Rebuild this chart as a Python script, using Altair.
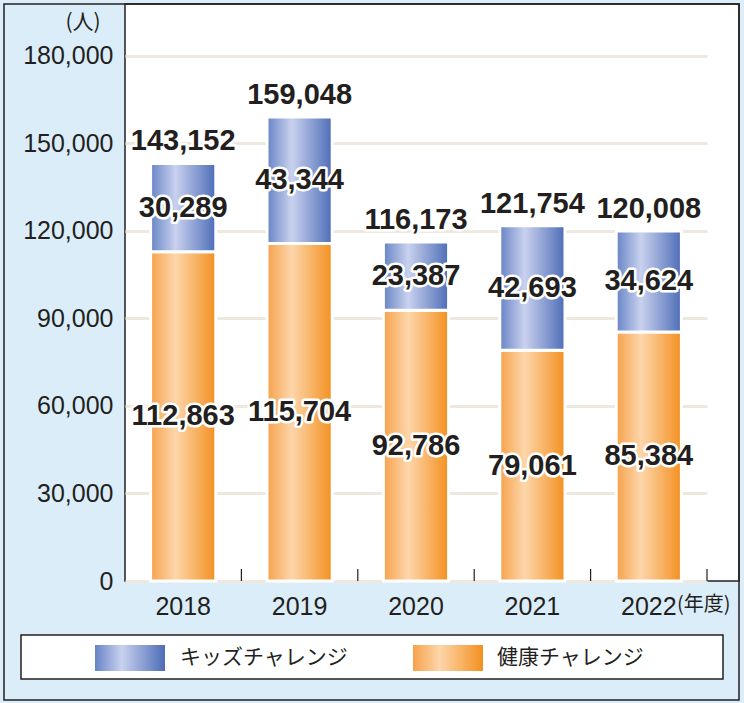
import altair as alt
import pandas as pd

years = ["2018", "2019", "2020", "2021", "2022"]
kids = [30289, 43344, 23387, 42693, 34624]
health = [112863, 115704, 92786, 79061, 85384]
totals = [143152, 159048, 116173, 121754, 120008]
series = ["キッズチャレンジ", "健康チャレンジ"]
y_ticks = [0, 30000, 60000, 90000, 120000, 150000, 180000]

df = pd.DataFrame({"year": years, "kids": kids, "health": health, "total": totals})

TXT = "#231f20"
JP = "Noto Sans CJK JP"
NUM = "Liberation Sans"

blue_grad = alt.LinearGradient(
    gradient="linear", x1=0, x2=1, y1=0, y2=0,
    stops=[alt.GradientStop(color="#6784c5", offset=0),
           alt.GradientStop(color="#c9d1ee", offset=0.38),
           alt.GradientStop(color="#4d6db7", offset=1)])
orange_grad = alt.LinearGradient(
    gradient="linear", x1=0, x2=1, y1=0, y2=0,
    stops=[alt.GradientStop(color="#f6a24c", offset=0),
           alt.GradientStop(color="#fdd6aa", offset=0.38),
           alt.GradientStop(color="#f39020", offset=1)])

PAD_IN = 0.44
X_RANGE = 582
STEP = X_RANGE / len(years)
xscale = alt.Scale(domain=years, range=[0, X_RANGE], paddingInner=PAD_IN, paddingOuter=PAD_IN / 2)
yscale = alt.Scale(domain=[0, 197800], nice=False, zero=True)

x_enc = alt.X("year:N", scale=xscale, sort=years,
              axis=alt.Axis(title=None, labelAngle=0, domain=False, ticks=False,
                            labelPadding=13, labelFontSize=25, labelFont=NUM,
                            labelColor=TXT, grid=False))

base = alt.Chart(df)

orange = base.mark_bar(color=orange_grad, stroke="white", strokeWidth=3).encode(
    x=x_enc,
    y=alt.Y("health:Q", scale=yscale,
            axis=alt.Axis(title=None, values=y_ticks, format=",d", domain=False,
                          ticks=False, labelPadding=12, labelFontSize=25,
                          labelFont=NUM, labelColor=TXT, grid=True,
                          gridColor="#eee8df", gridWidth=3)),
    y2=alt.datum(0),
)
blue = base.mark_bar(color=blue_grad, stroke="white", strokeWidth=3).encode(
    x=alt.X("year:N", scale=xscale, sort=years),
    y=alt.Y("health:Q", scale=yscale),
    y2="total:Q",
)

# category separator ticks at the band boundaries, pointing up from the axis
sep_ticks = base.mark_rule(color=TXT, strokeWidth=1.2, xOffset=STEP * PAD_IN / 2).encode(
    x=alt.X("year:N", scale=xscale, sort=years, bandPosition=1),
    y=alt.value(565), y2=alt.value(577),
)


def labels(field, ypos, dy=0):
    halo = base.transform_calculate(ymid=ypos).mark_text(
        font=NUM, fontWeight="bold", fontSize=29, baseline="middle", dy=dy,
        fill="white", stroke="white", strokeWidth=5, strokeJoin="round").encode(
        x=alt.X("year:N", scale=xscale, sort=years),
        y=alt.Y("ymid:Q", scale=yscale),
        text=alt.Text(f"{field}:Q", format=",d"))
    front = base.transform_calculate(ymid=ypos).mark_text(
        font=NUM, fontWeight="bold", fontSize=29, baseline="middle", dy=dy,
        fill=TXT).encode(
        x=alt.X("year:N", scale=xscale, sort=years),
        y=alt.Y("ymid:Q", scale=yscale),
        text=alt.Text(f"{field}:Q", format=",d"))
    return halo + front


lab_total = labels("total", "datum.total", dy=-22)
lab_kids = labels("kids", "(datum.health + datum.total) / 2")
lab_health = labels("health", "datum.health / 2")

one = alt.Chart(pd.DataFrame({"k": [0]}))

unit_txt = one.mark_text(text="(人)", font=JP, fontSize=21, color=TXT,
                         align="center", baseline="middle").encode(
    x=alt.value(-42), y=alt.value(19))
year_txt = one.mark_text(text="(年度)", font=JP, fontSize=20, color=TXT,
                         align="left", baseline="middle").encode(
    x=alt.value(552), y=alt.value(601))

legend_box = one.mark_rect(fill="white", stroke=TXT, strokeWidth=1.5).encode(
    x=alt.value(-104), x2=alt.value(598), y=alt.value(631), y2=alt.value(675))
sw_blue = one.mark_rect(color=blue_grad).encode(
    x=alt.value(-30), x2=alt.value(40), y=alt.value(641), y2=alt.value(667))
sw_orange = one.mark_rect(color=orange_grad).encode(
    x=alt.value(288), x2=alt.value(358), y=alt.value(641), y2=alt.value(667))
lt_blue = one.mark_text(text=series[0], font=JP, fontSize=21, color=TXT,
                        align="left", baseline="middle").encode(
    x=alt.value(55), y=alt.value(654))
lt_orange = one.mark_text(text=series[1], font=JP, fontSize=21, color=TXT,
                          align="left", baseline="middle").encode(
    x=alt.value(372), y=alt.value(654))
outer = one.mark_rect(fill="transparent", stroke=TXT, strokeWidth=1.5).encode(
    x=alt.value(-121), x2=alt.value(614), y=alt.value(0), y2=alt.value(696))

chart = alt.layer(
    orange, blue, sep_ticks, lab_total, lab_kids, lab_health,
    unit_txt, year_txt, legend_box, sw_blue, sw_orange, lt_blue, lt_orange, outer,
).properties(
    width=614, height=577,
    autosize=alt.AutoSizeParams(type="none"),
    padding={"left": 125, "top": 4, "right": 5, "bottom": 122},
    background="#dcedfa",
).configure_view(
    fill="white", stroke=TXT, strokeWidth=1.5,
)

chart.save("out.html", embed_options={"renderer": "svg", "actions": False})
